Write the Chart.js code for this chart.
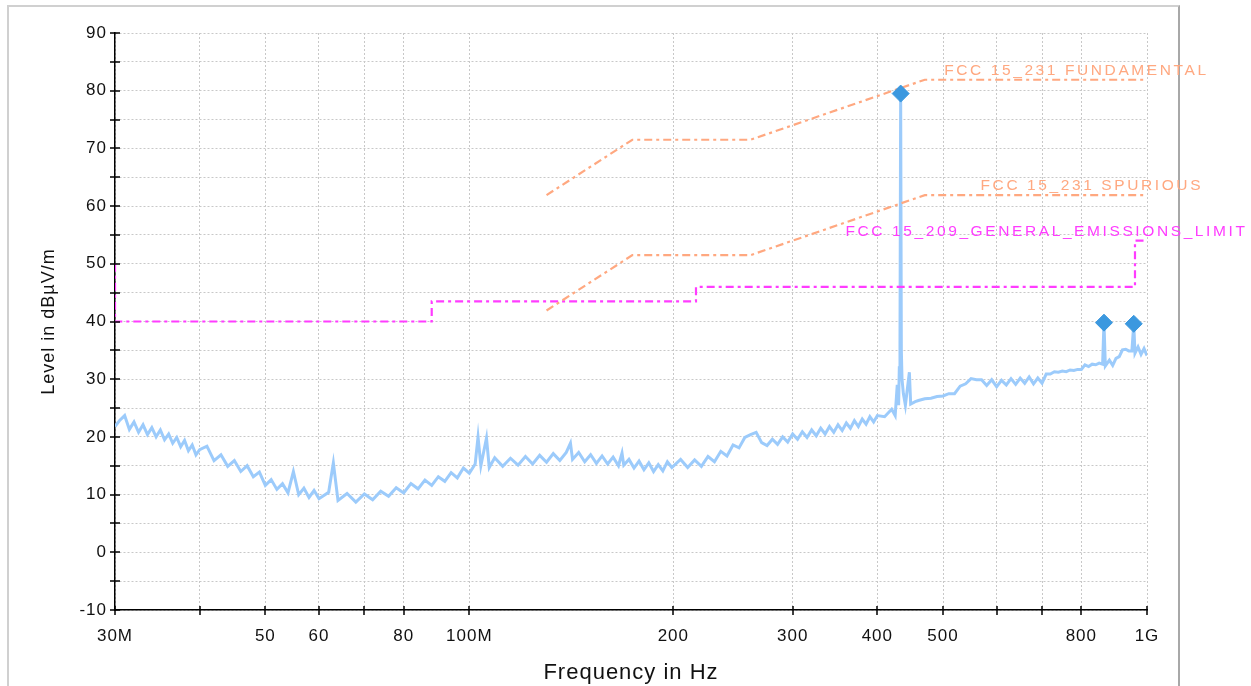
<!DOCTYPE html>
<html lang="en">
<head>
<meta charset="UTF-8">
<title>Radiated Emissions 30M - 1G</title>
<script src="https://cdn.jsdelivr.net/npm/chart.js"></script>
<style>
  html, body { margin: 0; padding: 0; background: #fff; }
  #frame { position: absolute; left: 7px; top: 5px; width: 1173px; height: 720px;
           border: 2px solid #d0d0d0; border-right-color: #a8a8a8; box-sizing: border-box; }
  #emiChart { position: absolute; left: 0; top: 0; }
</style>
</head>
<body>
<div id="frame"></div>
<canvas id="emiChart" width="1251" height="686"></canvas>
<script>
// axis ticks (MHz / dBuV/m)
const xTicks = [30, 40, 50, 60, 70, 80, 100, 200, 300, 400, 500, 600, 700, 800, 1000];
const xTickLabels = ['30M', '', '50', '60', '', '80', '100M', '200', '300', '400', '500', '', '', '800', '1G'];
const yTicks = [-10, -5, 0, 5, 10, 15, 20, 25, 30, 35, 40, 45, 50, 55, 60, 65, 70, 75, 80, 85, 90];
const yTickLabels = ['-10', '', '0', '', '10', '', '20', '', '30', '', '40', '', '50', '', '60', '', '70', '', '80', '', '90'];

// measured trace (MHz, dBuV/m)
const traceFreq = [
  30, 30.5, 31, 31.5, 32, 32.5, 33, 33.5, 34, 34.5, 35, 35.5, 36, 36.5, 37, 37.5, 38, 38.5, 39, 39.5, 40,
  41, 42, 43, 44, 45, 46, 47, 48, 49, 50, 51, 52, 53, 54, 55, 56, 57, 58, 59, 60,
  62, 63, 64, 66, 68, 70, 72, 74, 76, 78, 80, 82, 84, 86, 88, 90, 92, 94, 96, 98, 100,
  102, 103, 104, 106, 107, 109, 112, 115, 118, 121, 124, 127, 130, 133, 136, 139, 141, 142, 145, 148,
  151, 154, 157, 160, 163, 166, 168, 169, 172, 175, 178, 181, 184, 187, 190, 193, 196, 199,
  205, 210, 215, 220, 225, 230, 235, 240, 245, 250, 255, 260, 265, 270, 275, 280, 285, 290, 295, 300,
  305, 310, 315, 320, 325, 330, 335, 340, 345, 350, 355, 360, 365, 370, 375, 380, 385, 390, 395, 400,
  410, 420, 425, 428, 430, 431, 432, 433, 434, 435, 437, 440, 446, 448, 455, 460, 470, 480, 490, 500,
  510, 520, 530, 540, 550, 560, 570, 580, 590, 600, 610, 620, 630, 640, 650, 660, 670, 680, 690, 700,
  710, 720, 730, 740, 750, 760, 770, 780, 790, 800, 810, 820, 830, 840, 850, 860, 864, 868, 880, 890,
  900, 910, 920, 930, 940, 950, 956, 960, 970, 980, 990, 1000
];
const traceLevel = [
  21.8, 22.9, 23.7, 21.3, 22.6, 20.8, 22.1, 20.4, 21.6, 20.0, 21.2, 19.5, 20.5, 18.9, 19.9, 18.3, 19.4, 17.6, 18.6, 16.9, 17.8,
  18.4, 15.9, 16.9, 14.9, 15.9, 14.0, 15.0, 13.1, 13.9, 11.6, 12.6, 10.9, 11.9, 10.3, 14.0, 10.0, 11.1, 9.5, 10.7, 9.3,
  10.4, 15.5, 9.0, 10.2, 8.7, 10.1, 9.1, 10.6, 9.7, 11.2, 10.3, 11.9, 11.0, 12.5, 11.6, 13.1, 12.3, 13.8, 12.9, 14.6, 13.7,
  15.3, 20.0, 15.0, 19.8, 14.7, 16.4, 14.9, 16.3, 15.1, 16.6, 15.3, 16.8, 15.6, 17.1, 15.9, 17.3, 18.9, 16.1, 17.3, 15.7,
  16.9, 15.4, 16.7, 15.3, 16.5, 15.0, 17.2, 15.1, 16.1, 14.6, 15.8, 14.3, 15.5, 14.0, 15.2, 14.1, 15.7, 14.7,
  16.1, 14.7, 16.0, 14.9, 16.6, 15.7, 17.5, 16.7, 18.6, 18.1, 19.9, 20.4, 20.8, 19.0, 18.5, 19.6, 18.7, 20.0, 19.1, 20.5,
  19.6, 20.9, 19.9, 21.2, 20.2, 21.5, 20.5, 21.8, 20.8, 22.1, 21.1, 22.4, 21.5, 22.8, 21.8, 23.1, 22.2, 23.5, 22.6, 23.7,
  23.5, 24.8, 23.7, 29.0, 25.5, 32.0, 35.5, 79.5, 35.0, 30.0, 27.5, 25.5, 31.2, 25.7, 26.1, 26.3, 26.6, 26.7, 27.0, 27.1,
  27.5, 27.5, 28.8, 29.2, 30.1, 29.9, 29.9, 28.9, 29.9, 28.7, 29.8, 29.0, 30.1, 29.1, 30.2, 29.3, 30.4, 29.2, 30.2, 29.3,
  30.9, 30.9, 31.3, 31.2, 31.4, 31.3, 31.6, 31.5, 31.7, 31.7, 32.5, 32.2, 32.6, 32.5, 32.8, 32.6, 39.8, 32.3, 33.3, 32.4,
  33.6, 33.9, 35.1, 35.2, 34.9, 34.9, 39.6, 34.5, 35.6, 34.3, 35.3, 34.1
];

// peak markers
const markerFreq = [433, 864, 956];
const markerLevel = [79.5, 39.8, 39.6];

// limit lines
const limitNames = ['FCC 15_231 FUNDAMENTAL', 'FCC 15_231 SPURIOUS', 'FCC 15_209_GENERAL_EMISSIONS_LIMIT'];
const fundFreq = [130, 174, 260, 470, 1000];
const fundLevel = [61.9, 71.5, 71.5, 81.9, 81.9];
const spurFreq = [130, 174, 260, 470, 1000];
const spurLevel = [41.9, 51.5, 51.5, 61.9, 61.9];
const genFreq = [30, 30, 88, 88, 216, 216, 960, 960, 1000];
const genLevel = [50, 40, 40, 43.5, 43.5, 46, 46, 54, 54];

const pts = (fx, fy) => fx.map((f, i) => ({ x: f, y: fy[i] }));

const ORANGE = '#ffa880';
const MAGENTA = '#ff3cff';
const FONT = "'Liberation Sans', Arial, sans-serif";

Chart.defaults.font.family = FONT;
Chart.defaults.color = '#111';

const spacing = {
  id: 'spacing',
  beforeUpdate(chart) { chart.ctx.letterSpacing = '1px'; },
  beforeDraw(chart) { chart.ctx.letterSpacing = '1px'; }
};

// ticks crossing the axis lines
const tickMarks = {
  id: 'tickMarks',
  afterDraw(chart) {
    const { ctx, chartArea, scales } = chart;
    ctx.save();
    ctx.strokeStyle = '#000';
    ctx.lineWidth = 1.5;
    ctx.beginPath();
    scales.x.ticks.forEach(t => {
      const px = Math.round(scales.x.getPixelForValue(t.value));
      ctx.moveTo(px, chartArea.bottom - 4);
      ctx.lineTo(px, chartArea.bottom + 5);
    });
    scales.y.ticks.forEach(t => {
      const py = Math.round(scales.y.getPixelForValue(t.value));
      ctx.moveTo(chartArea.left - 5, py);
      ctx.lineTo(chartArea.left + 5, py);
    });
    ctx.stroke();
    ctx.restore();
  }
};

// limit line names
const limitLabels = {
  id: 'limitLabels',
  afterDatasetsDraw(chart) {
    const { ctx, scales: { x, y } } = chart;
    const anchors = [[502, 83.5, ORANGE], [568, 63.5, ORANGE], [359, 55.6, MAGENTA]];
    ctx.save();
    ctx.font = '15.5px ' + FONT;
    ctx.letterSpacing = '2.6px';
    ctx.textBaseline = 'middle';
    ctx.textAlign = 'left';
    anchors.forEach((a, i) => {
      ctx.fillStyle = a[2];
      ctx.fillText(limitNames[i], x.getPixelForValue(a[0]), y.getPixelForValue(a[1]));
    });
    ctx.restore();
  }
};

const limitStyle = color => ({
  borderColor: color,
  borderWidth: 2.2,
  borderDash: [8, 4, 3, 4],
  pointRadius: 0,
  fill: false,
  tension: 0
});

new Chart(document.getElementById('emiChart'), {
  type: 'line',
  data: {
    datasets: [
      {
        label: 'Peaks',
        data: pts(markerFreq, markerLevel),
        showLine: false,
        pointStyle: 'rectRot',
        pointRadius: 8.5,
        backgroundColor: '#3b98df',
        borderColor: '#3b98df'
      },
      Object.assign({ label: limitNames[0], data: pts(fundFreq, fundLevel) }, limitStyle(ORANGE)),
      Object.assign({ label: limitNames[1], data: pts(spurFreq, spurLevel) }, limitStyle(ORANGE)),
      Object.assign({ label: limitNames[2], data: pts(genFreq, genLevel) }, limitStyle(MAGENTA)),
      {
        label: 'Trace',
        data: pts(traceFreq, traceLevel),
        borderColor: '#9ccbfb',
        borderWidth: 3,
        borderJoinStyle: 'miter',
        pointRadius: 0,
        tension: 0
      }
    ]
  },
  options: {
    responsive: false,
    animation: false,
    events: [],
    layout: { padding: { left: 0, right: 104, top: 33, bottom: 0 } },
    plugins: { legend: { display: false }, tooltip: { enabled: false } },
    scales: {
      x: {
        type: 'logarithmic',
        min: 30,
        max: 1000,
        afterBuildTicks(scale) { scale.ticks = xTicks.map(v => ({ value: v })); },
        afterFit(scale) { scale.height = 76; },
        ticks: {
          autoSkip: false,
          maxRotation: 0,
          padding: 16,
          font: { size: 17 },
          callback: (v, i) => xTickLabels[i]
        },
        grid: { color: '#c8c8c8', lineWidth: 1, drawTicks: false },
        border: { color: '#000', width: 1.5, dash: [2, 2] },
        title: {
          display: true,
          text: 'Frequency in Hz',
          font: { size: 22 },
          padding: { top: 0, bottom: 0 }
        }
      },
      y: {
        min: -10,
        max: 90,
        afterBuildTicks(scale) { scale.ticks = yTicks.map(v => ({ value: v })); },
        afterFit(scale) { scale.width = 115; },
        ticks: {
          padding: 8,
          font: { size: 17 },
          callback: (v, i) => yTickLabels[i]
        },
        grid: { color: '#c8c8c8', lineWidth: 1, drawTicks: false },
        border: { color: '#000', width: 1.5, dash: [2, 2] },
        title: {
          display: true,
          text: 'Level in dBµV/m',
          font: { size: 18 },
          padding: { top: 38, bottom: 0 }
        }
      }
    }
  },
  plugins: [spacing, tickMarks, limitLabels]
});
</script>
</body>
</html>
